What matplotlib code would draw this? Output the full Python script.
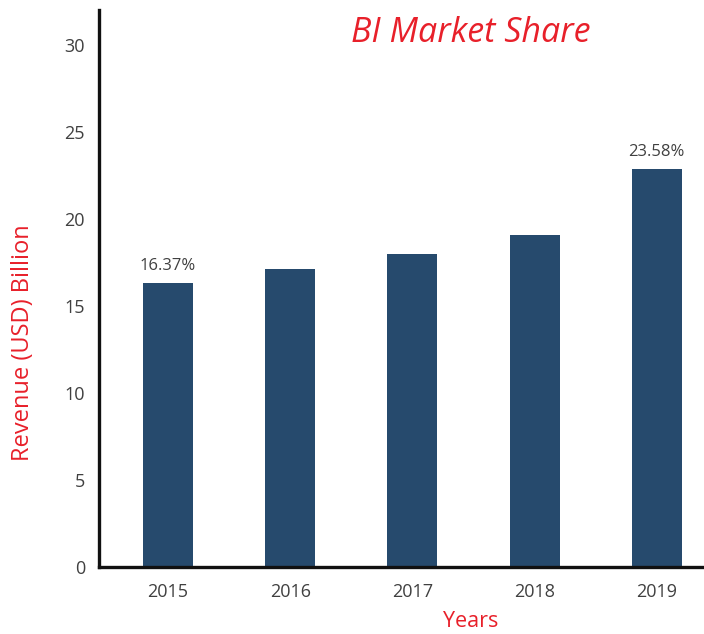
import matplotlib.pyplot as plt

years = ['2015', '2016', '2017', '2018', '2019']
revenue = [16.3, 17.1, 18.0, 19.05, 22.85]
bar_labels = ['16.37%', '', '', '', '23.58%']
y_ticks = [0, 5, 10, 15, 20, 25, 30]

RED = '#e8202a'
BAR = '#264a6d'
GREY = '#404040'

plt.rcParams['font.family'] = ['Open Sans', 'DejaVu Sans']

fig = plt.figure(figsize=(7.04, 6.34), dpi=100)
ax = fig.add_axes([0.1406, 0.106, 0.86, 0.878])

x = range(len(years))
bars = ax.bar(x, revenue, width=0.41, color=BAR)

for rect, lab in zip(bars, bar_labels):
    if lab:
        ax.text(rect.get_x() + rect.get_width() / 2, rect.get_height() + 0.55, lab,
                ha='center', va='bottom', fontsize=12, color=GREY)

ax.set_xlim(-0.565, 4.39)
ax.set_ylim(0, 32.0)
ax.set_xticks(list(x))
ax.set_xticklabels(years)
ax.set_yticks(y_ticks)
ax.tick_params(axis='both', length=0, labelsize=13, labelcolor=GREY)
ax.tick_params(axis='x', pad=12)
ax.tick_params(axis='y', pad=10)

for s in ['top', 'right']:
    ax.spines[s].set_visible(False)
for s in ['left', 'bottom']:
    ax.spines[s].set_linewidth(2.4)
    ax.spines[s].set_color('#111111')

fig.text(0.668, 0.019, 'Years', color=RED, fontsize=15.5, ha='center', va='center')
fig.text(0.032, 0.459, 'Revenue (USD) Billion', color=RED, fontsize=17,
         rotation=90, ha='center', va='center')

fig.text(0.669, 0.948, 'BI Market Share', color=RED, fontsize=24.5,
         style='italic', ha='center', va='center')

fig.savefig('out.png', dpi=100)
